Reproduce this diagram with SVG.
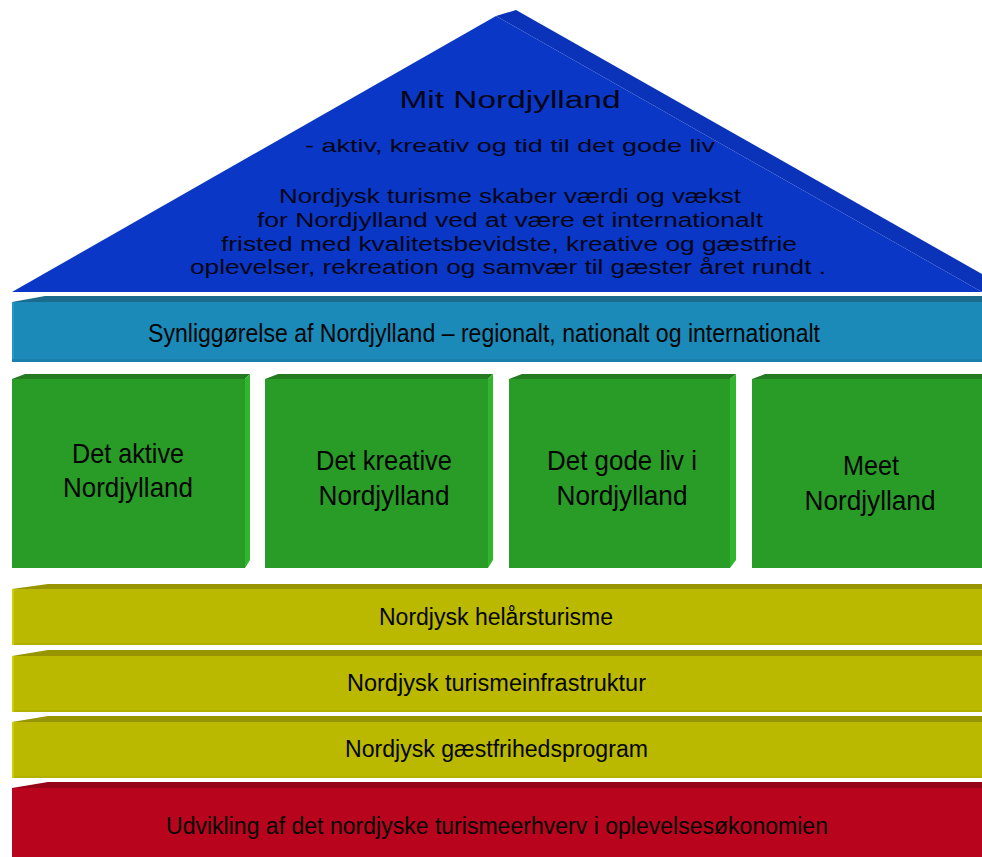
<svg xmlns="http://www.w3.org/2000/svg" width="982" height="857" viewBox="0 0 982 857">
<style>
.t{font-family:"Liberation Sans",Arial,sans-serif;fill:#050505;text-anchor:middle}
.r{font-family:"Liberation Sans",Arial,sans-serif;fill:#050515;text-anchor:middle}
.gf{fill:#299c27}.gt{fill:#237a20}.gs{fill:#2fb62c}
.yf{fill:#bab900}.yt{fill:#969400}.yb{fill:#b3b100}
</style>
<rect width="982" height="857" fill="#ffffff"/>
<g id="roof">
<polygon points="496,16 516,10 982,274 982,292" fill="#0a33b9"/>
<polygon points="12,292 496,16 982,292" fill="#0a37c5"/>
<text class="r" x="510" y="108" font-size="23" textLength="221" lengthAdjust="spacingAndGlyphs">Mit Nordjylland</text>
<text class="r" x="510" y="152" font-size="19" textLength="410" lengthAdjust="spacingAndGlyphs">- aktiv, kreativ og tid til det gode liv</text>
<text class="r" x="510" y="203" font-size="19.5" textLength="462" lengthAdjust="spacingAndGlyphs">Nordjysk turisme skaber værdi og vækst</text>
<text class="r" x="510" y="227" font-size="19.5" textLength="506" lengthAdjust="spacingAndGlyphs">for Nordjylland ved at være et internationalt</text>
<text class="r" x="509" y="251" font-size="19.5" textLength="576" lengthAdjust="spacingAndGlyphs">fristed med kvalitetsbevidste, kreative og gæstfrie</text>
<text class="r" x="508" y="274" font-size="19.5" textLength="636" lengthAdjust="spacingAndGlyphs">oplevelser, rekreation og samvær til gæster året rundt .</text>
</g>
<g id="synlig">
<polygon points="12,302 45,296 982,296 982,302" fill="#1a6b8c"/>
<rect x="12" y="302" width="970" height="60" fill="#1b8ab8"/>
<rect x="12" y="302" width="2" height="60" fill="#2298c8"/>
<rect x="12" y="359" width="970" height="3" fill="#1a80ab"/>
<text class="t" x="484" y="342" font-size="25" textLength="672" lengthAdjust="spacingAndGlyphs">Synliggørelse af Nordjylland – regionalt, nationalt og internationalt</text>
</g>
<g id="aktive">
<polygon class="gt" points="12,379 25,374 250,374 245,379"/>
<polygon class="gs" points="245,379 250,374 250,560 245,568"/>
<rect class="gf" x="12" y="379" width="233" height="189"/>
<text class="t" x="128" y="463" font-size="28" textLength="112" lengthAdjust="spacingAndGlyphs">Det aktive</text>
<text class="t" x="128" y="497" font-size="28" textLength="130" lengthAdjust="spacingAndGlyphs">Nordjylland</text>
</g>
<g id="kreative">
<polygon class="gt" points="265,379 278,374 493,374 488,379"/>
<polygon class="gs" points="488,379 493,374 493,560 488,568"/>
<rect class="gf" x="265" y="379" width="223" height="189"/>
<text class="t" x="384" y="470" font-size="28" textLength="136" lengthAdjust="spacingAndGlyphs">Det kreative</text>
<text class="t" x="384" y="505" font-size="28" textLength="131" lengthAdjust="spacingAndGlyphs">Nordjylland</text>
</g>
<g id="godeliv">
<polygon class="gt" points="509,379 522,374 736,374 730,379"/>
<polygon class="gs" points="730,379 736,374 736,560 730,568"/>
<rect class="gf" x="509" y="379" width="221" height="189"/>
<text class="t" x="622" y="470" font-size="28" textLength="150" lengthAdjust="spacingAndGlyphs">Det gode liv i</text>
<text class="t" x="622" y="505" font-size="28" textLength="131" lengthAdjust="spacingAndGlyphs">Nordjylland</text>
</g>
<g id="meet">
<polygon class="gt" points="752,379 765,374 982,374 982,379"/>
<rect class="gf" x="752" y="379" width="230" height="189"/>
<text class="t" x="871" y="475" font-size="28" textLength="56" lengthAdjust="spacingAndGlyphs">Meet</text>
<text class="t" x="870" y="510" font-size="28" textLength="131" lengthAdjust="spacingAndGlyphs">Nordjylland</text>
</g>
<g id="helaar">
<polygon class="yt" points="12,589 48,584 982,584 982,589"/>
<rect class="yf" x="12" y="589" width="970" height="56"/>
<rect class="yb" x="12" y="643" width="970" height="2"/>
<rect x="12" y="589" width="2" height="56" fill="#d0ce00"/>
<text class="t" x="496" y="625" font-size="23" textLength="234" lengthAdjust="spacingAndGlyphs">Nordjysk helårsturisme</text>
</g>
<g id="infra">
<polygon class="yt" points="12,656 48,650 982,650 982,656"/>
<rect class="yf" x="12" y="656" width="970" height="56"/>
<rect class="yb" x="12" y="710" width="970" height="2"/>
<rect x="12" y="656" width="2" height="56" fill="#d0ce00"/>
<text class="t" x="496.5" y="691" font-size="23" textLength="299" lengthAdjust="spacingAndGlyphs">Nordjysk turismeinfrastruktur</text>
</g>
<g id="gaestfri">
<polygon class="yt" points="12,722 48,716 982,716 982,722"/>
<rect class="yf" x="12" y="722" width="970" height="56"/>
<rect class="yb" x="12" y="776" width="970" height="2"/>
<rect x="12" y="722" width="2" height="56" fill="#d0ce00"/>
<text class="t" x="496.5" y="757" font-size="23" textLength="303" lengthAdjust="spacingAndGlyphs">Nordjysk gæstfrihedsprogram</text>
</g>
<g id="udvikling">
<polygon points="12,788 48,782 982,782 982,788" fill="#960418"/>
<rect x="12" y="788" width="970" height="69" fill="#b8051d"/>
<text class="t" x="497" y="834" font-size="23" textLength="662" lengthAdjust="spacingAndGlyphs">Udvikling af det nordjyske turismeerhverv i oplevelsesøkonomien</text>
</g>
<g id="connectors"/>
</svg>
